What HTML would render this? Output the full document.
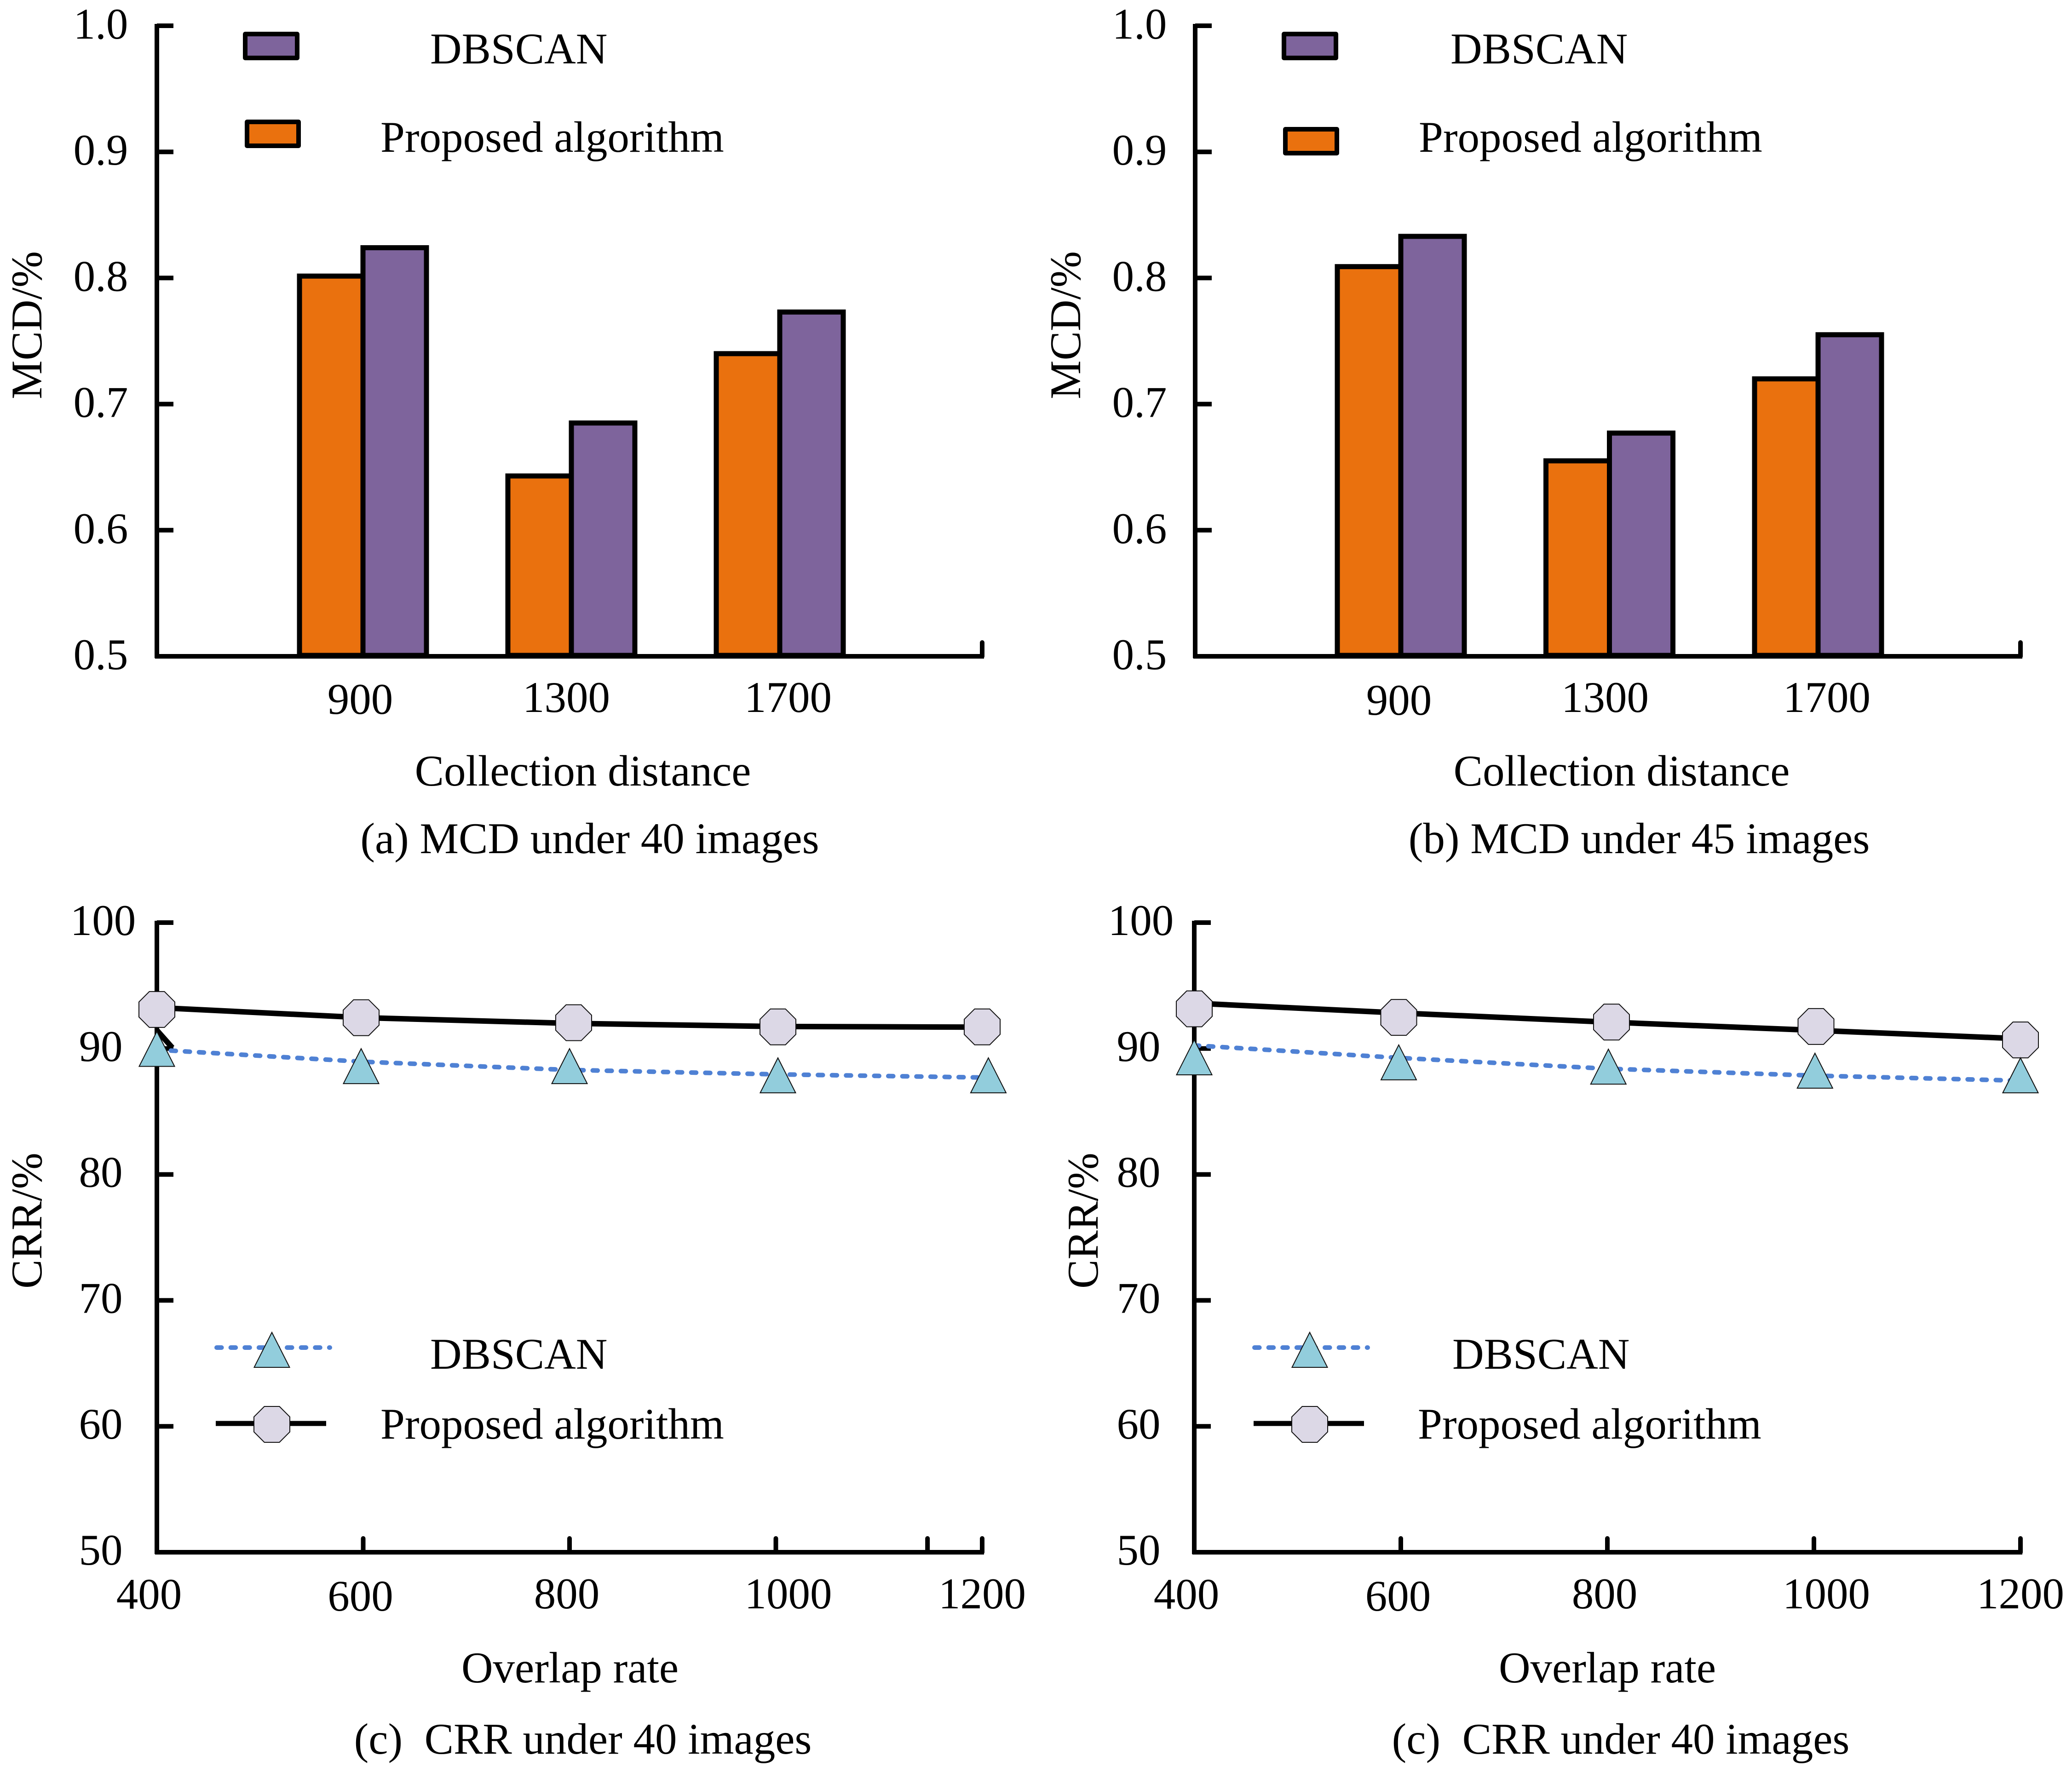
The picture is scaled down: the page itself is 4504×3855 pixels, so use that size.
<!DOCTYPE html>
<html lang="en">
<head>
<meta charset="utf-8">
<title>MCD and CRR comparison charts</title>
<style>
html,body{margin:0;padding:0;background:#fff;}
svg{display:block;}
text{font-family:"Liberation Serif",serif;font-size:95px;fill:#000;}
</style>
</head>
<body>
<svg id="figure" xmlns="http://www.w3.org/2000/svg" width="4504" height="3855" viewBox="0 0 4504 3855">
<rect x="0" y="0" width="4504" height="3855" fill="#ffffff"/>

<g id="panel-a">
  <text transform="translate(90,707) rotate(-90)" text-anchor="middle">MCD/%</text>
  <text x="1267" y="1708" text-anchor="middle">Collection distance</text>
  <text x="1282" y="1855" text-anchor="middle">(a) MCD under 40 images</text>
  <rect x="533" y="74" width="113" height="52" fill="#7e649c" stroke="#000" stroke-width="10" stroke-linejoin="round"/>
  <text x="935" y="138">DBSCAN</text>
  <rect x="537" y="265" width="112" height="52" fill="#ea710e" stroke="#000" stroke-width="10" stroke-linejoin="round"/>
  <text x="827" y="330">Proposed algorithm</text>
</g>

<g id="panel-b">
  <text transform="translate(2348,707) rotate(-90)" text-anchor="middle">MCD/%</text>
  <text x="3525" y="1708" text-anchor="middle">Collection distance</text>
  <text x="3563" y="1855" text-anchor="middle">(b) MCD under 45 images</text>
  <rect x="2791" y="74" width="113" height="52" fill="#7e649c" stroke="#000" stroke-width="10" stroke-linejoin="round"/>
  <text x="3153" y="138">DBSCAN</text>
  <rect x="2794" y="281" width="112" height="52" fill="#ea710e" stroke="#000" stroke-width="10" stroke-linejoin="round"/>
  <text x="3084" y="330">Proposed algorithm</text>
</g>

<g id="panel-c">
  <text transform="translate(90,2654) rotate(-90)" text-anchor="middle">CRR/%</text>
  <text x="1239" y="3658" text-anchor="middle">Overlap rate</text>
  <text x="1267" y="3813" text-anchor="middle" xml:space="preserve">(c)  CRR under 40 images</text>
  <text x="935" y="2976">DBSCAN</text>
  <text x="827" y="3128">Proposed algorithm</text>
</g>

<g id="panel-d">
  <text transform="translate(2386,2654) rotate(-90)" text-anchor="middle">CRR/%</text>
  <text x="3494" y="3658" text-anchor="middle">Overlap rate</text>
  <text x="3523" y="3813" text-anchor="middle" xml:space="preserve">(c)  CRR under 40 images</text>
  <text x="3157" y="2976">DBSCAN</text>
  <text x="3082" y="3128">Proposed algorithm</text>
</g>
</svg>

<script>
// ---- bar chart data ----
const mcdCategories = [900, 1300, 1700];
const mcdYTicks = ['0.5', '0.6', '0.7', '0.8', '0.9', '1.0'];
const mcd40Proposed = [0.8015, 0.643, 0.740];
const mcd40Dbscan = [0.824, 0.685, 0.773];
const mcd45Proposed = [0.809, 0.655, 0.720];
const mcd45Dbscan = [0.833, 0.677, 0.755];

// ---- line chart data ----
const crrOverlap = [400, 600, 800, 1000, 1200];
const crrYTicks = ['50', '60', '70', '80', '90', '100'];

const crrCProposedLine = [93.25, 92.45, 92.0, 91.75, 91.7];
const crrCDbscanLine = [89.9, 88.95, 88.3, 87.95, 87.7];
const crrCProposedMarkers = [93.1, 92.45, 92.05, 91.72, 91.72];
const crrCProposedMarkerOverlap = [400, 598, 804, 1002, 1200];
const crrCDbscanMarkers = [89.97, 88.6, 88.6, 87.87, 87.87];
const crrCDbscanMarkerOverlap = [400, 598, 800, 1002, 1206];
const crrCStrayOverlap = [400, 415];
const crrCStrayValues = [91.45, 90.06];

const crrDProposedLine = [93.6, 92.82, 92.1, 91.45, 90.78];
const crrDDbscanLine = [90.25, 89.25, 88.4, 87.85, 87.45];
const crrDProposedMarkers = [93.15, 92.47, 92.1, 91.75, 90.68];
const crrDProposedMarkerOverlap = [400, 598, 804, 1002, 1200];
const crrDDbscanMarkers = [89.3, 88.9, 88.56, 88.24, 87.87];
const crrDDbscanMarkerOverlap = [400, 598, 801, 1001, 1200];

// ---- drawing ----
const SVG_NS = 'http://www.w3.org/2000/svg';
const AXIS_W = 10;
const TOP_Y = 56;
const BOTTOM_Y = 1427;
const CRR_TOP_Y = 2006;
const CRR_BOTTOM_Y = 3375;

function make(parent, tag, attrs) {
  const el = document.createElementNS(SVG_NS, tag);
  for (const k in attrs) el.setAttribute(k, attrs[k]);
  parent.appendChild(el);
  return el;
}

function octagonPoints(cx, cy, r) {
  const s = r * 0.42;
  return [[cx - s, cy - r], [cx + s, cy - r], [cx + r, cy - s], [cx + r, cy + s],
          [cx + s, cy + r], [cx - s, cy + r], [cx - r, cy + s], [cx - r, cy - s]]
    .map(p => p.join(',')).join(' ');
}

function trianglePoints(cx, cy, r, h) {
  return [[cx, cy - h / 2], [cx + r, cy + h / 2], [cx - r, cy + h / 2]]
    .map(p => p.join(',')).join(' ');
}

function drawOctagon(g, cx, cy, name) {
  const el = make(g, 'polygon', { points: octagonPoints(cx, cy, 39), fill: '#dcd8e6', stroke: '#111', 'stroke-width': 2 });
  
  
}

function drawTriangle(g, cx, cy, name) {
  const el = make(g, 'polygon', { points: trianglePoints(cx, cy, 38.5, 76), fill: '#92cddc', stroke: '#111', 'stroke-width': 2 });
  
  
}

function drawBarPanel(id, axisX, axisEnd, labelCenter, firstBoundary, step, barW, proposed, dbscan, labelXs, labelYs) {
  const g = document.getElementById(id);
  const y = v => BOTTOM_Y - (v - 0.5) / 0.5 * (BOTTOM_Y - TOP_Y);
  const boundary = i => firstBoundary + i * step;

  mcdCategories.forEach((cat, i) => {
    const o = make(g, 'rect', { x: boundary(i) - barW, y: y(proposed[i]), width: barW, height: BOTTOM_Y - 2 - y(proposed[i]), fill: '#ea710e', stroke: '#000', 'stroke-width': 11 });
    
    
    const p = make(g, 'rect', { x: boundary(i), y: y(dbscan[i]), width: barW, height: BOTTOM_Y - 2 - y(dbscan[i]), fill: '#7e649c', stroke: '#000', 'stroke-width': 11 });
    
    
    const t = make(g, 'text', { x: labelXs(i), y: labelYs(i), 'text-anchor': 'middle' });
    t.textContent = cat;
    
    
  });

  mcdYTicks.forEach(label => {
    const py = y(parseFloat(label));
    const tick = make(g, 'line', { x1: axisX, x2: axisX + 36, y1: py, y2: py, stroke: '#000', 'stroke-width': AXIS_W });
    
    
    const t = make(g, 'text', { x: labelCenter, y: py + 28, 'text-anchor': 'middle' });
    t.textContent = label;
    
    
  });

  const ya = make(g, 'line', { x1: axisX, x2: axisX, y1: TOP_Y - 4, y2: BOTTOM_Y + 4, stroke: '#000', 'stroke-width': AXIS_W });
  
  
  const xa = make(g, 'line', { x1: axisX - 4, x2: axisEnd + 4, y1: BOTTOM_Y, y2: BOTTOM_Y, stroke: '#000', 'stroke-width': AXIS_W });
  
  
  const endTick = make(g, 'line', { x1: axisEnd, x2: axisEnd, y1: BOTTOM_Y - 30, y2: BOTTOM_Y, stroke: '#000', 'stroke-width': AXIS_W, 'stroke-linecap': 'round' });
  
  
}

function drawLinePanel(id, cfg) {
  const g = document.getElementById(id);
  const x = v => cfg.axisX + (v - 400) / 800 * (cfg.axisEnd - cfg.axisX);
  const y = v => CRR_BOTTOM_Y - (v - 50) / 50 * (CRR_BOTTOM_Y - CRR_TOP_Y);

  crrYTicks.forEach(label => {
    const py = y(parseFloat(label));
    const tick = make(g, 'line', { x1: cfg.axisX, x2: cfg.axisX + 36, y1: py, y2: py, stroke: '#000', 'stroke-width': AXIS_W });
    
    
    const t = make(g, 'text', { x: cfg.labelCenter + (label === '100' ? 5 : 0), y: py + 27, 'text-anchor': 'middle' });
    t.textContent = label;
    
    
  });

  crrOverlap.forEach((v, i) => {
    if (i > 0) {
      const tick = make(g, 'line', { x1: x(v), x2: x(v), y1: CRR_BOTTOM_Y - 30, y2: CRR_BOTTOM_Y, stroke: '#000', 'stroke-width': AXIS_W, 'stroke-linecap': 'round' });
      
      
    }
    const t = make(g, 'text', { x: x(v) + cfg.labelNudge[v], y: cfg.labelBase[v], 'text-anchor': 'middle' });
    t.textContent = v;
    
    
  });

  const ya = make(g, 'line', { x1: cfg.axisX, x2: cfg.axisX, y1: CRR_TOP_Y - 4, y2: CRR_BOTTOM_Y + 4, stroke: '#000', 'stroke-width': AXIS_W });
  
  
  const xa = make(g, 'line', { x1: cfg.axisX - 4, x2: cfg.axisEnd + 4, y1: CRR_BOTTOM_Y, y2: CRR_BOTTOM_Y, stroke: '#000', 'stroke-width': AXIS_W });
  
  

  if (cfg.extraTick) {
    const extra = make(g, 'line', { x1: x(cfg.extraTick), x2: x(cfg.extraTick), y1: CRR_BOTTOM_Y - 30, y2: CRR_BOTTOM_Y, stroke: '#000', 'stroke-width': AXIS_W, 'stroke-linecap': 'round' });
    
    
  }

  const blackPts = crrOverlap.map((v, i) => x(v) + ',' + y(cfg.proposedLine[i])).join(' ');
  const black = make(g, 'polyline', { points: blackPts, fill: 'none', stroke: '#000', 'stroke-width': 12 });
  
  

  if (cfg.strayX) {
    const strayPts = cfg.strayX.map((v, i) => x(v) + ',' + y(cfg.strayY[i])).join(' ');
    const stray = make(g, 'polyline', { points: strayPts, fill: 'none', stroke: '#000', 'stroke-width': 12 });
    
    
  }

  const bluePts = crrOverlap.map((v, i) => x(v) + ',' + y(cfg.dbscanLine[i])).join(' ');
  const blue = make(g, 'polyline', { points: bluePts, fill: 'none', stroke: '#4f81d4', 'stroke-width': 10, 'stroke-dasharray': '10.6 20', 'stroke-linecap': 'round' });
  
  

  cfg.proposedMarkers.forEach((v, i) => {
    drawOctagon(g, x(cfg.proposedMarkerX[i]), y(v), 'marker-proposed-' + crrOverlap[i]);
  });
  cfg.dbscanMarkers.forEach((v, i) => {
    drawTriangle(g, x(cfg.dbscanMarkerX[i]), y(v), 'marker-dbscan-' + crrOverlap[i]);
  });

  // legend
  const lb = make(g, 'line', { x1: cfg.legendX - 120, x2: cfg.legendX + 126, y1: 2930, y2: 2930, stroke: '#4f81d4', 'stroke-width': 10, 'stroke-dasharray': '10.6 20', 'stroke-linecap': 'round' });
  
  
  drawTriangle(g, cfg.legendX, 2935, 'legend-marker-dbscan');
  const lk = make(g, 'line', { x1: cfg.legendX - 122, x2: cfg.legendX + 118, y1: 3095, y2: 3095, stroke: '#000', 'stroke-width': 11 });
  
  
  drawOctagon(g, cfg.legendX, 3097, 'legend-marker-proposed');
}

drawBarPanel('panel-a', 341, 2135, 219, 789, 453, 138, mcd40Proposed, mcd40Dbscan,
  i => 783 + i * 448 + (i === 2 ? 34 : 0), i => (i === 0 ? 1552 : 1548));
drawBarPanel('panel-b', 2598, 4392, 2477, 3045, 453.5, 138, mcd45Proposed, mcd45Dbscan,
  i => 3041 + i * 448 + (i === 2 ? 34 : 0), i => (i === 0 ? 1554 : 1548));

drawLinePanel('panel-c', {
  axisX: 341, axisEnd: 2135, labelCenter: 219, legendX: 591, extraTick: 1147,
  labelNudge: { 400: -17, 600: -6, 800: -6, 1000: 27, 1200: 0 },
  labelBase: { 400: 3498, 600: 3502, 800: 3497, 1000: 3497, 1200: 3497 },
  proposedLine: crrCProposedLine, dbscanLine: crrCDbscanLine,
  proposedMarkers: crrCProposedMarkers, proposedMarkerX: crrCProposedMarkerOverlap,
  dbscanMarkers: crrCDbscanMarkers, dbscanMarkerX: crrCDbscanMarkerOverlap,
  strayX: crrCStrayOverlap, strayY: crrCStrayValues
});
drawLinePanel('panel-d', {
  axisX: 2596, axisEnd: 4392, labelCenter: 2475, legendX: 2847,
  labelNudge: { 400: -17, 600: -6, 800: -6, 1000: 27, 1200: 0 },
  labelBase: { 400: 3498, 600: 3502, 800: 3497, 1000: 3497, 1200: 3497 },
  proposedLine: crrDProposedLine, dbscanLine: crrDDbscanLine,
  proposedMarkers: crrDProposedMarkers, proposedMarkerX: crrDProposedMarkerOverlap,
  dbscanMarkers: crrDDbscanMarkers, dbscanMarkerX: crrDDbscanMarkerOverlap
});
</script>
</body>
</html>
